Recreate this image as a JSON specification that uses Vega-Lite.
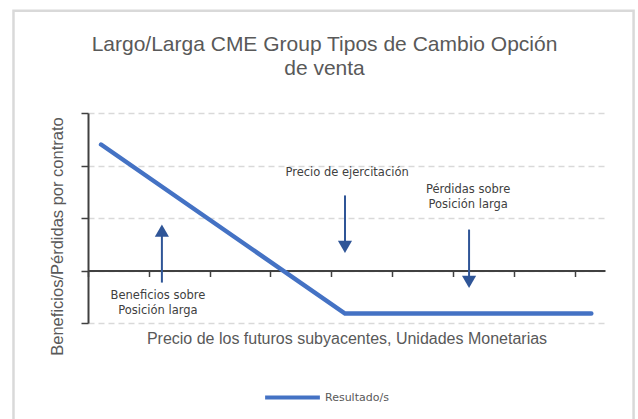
{
  "$schema": "https://vega.github.io/schema/vega-lite/v6.json",
  "width": 517,
  "height": 210,
  "autosize": {"type": "none"},
  "padding": {"left": 88, "top": 113, "right": 33, "bottom": 96},
  "background": "#ffffff",
  "config": {
    "view": {"stroke": null},
    "font": "Liberation Sans"
  },
  "title": {
    "text": ["Largo/Larga CME Group Tipos de Cambio Opción", "de venta"],
    "frame": "group",
    "fontSize": 21,
    "fontWeight": "normal",
    "font": "Liberation Sans",
    "color": "#595959",
    "lineHeight": 24,
    "offset": -70,
    "dx": -22
  },
  "datasets": {
    "payoff": [
      {"precio": 0.43, "resultado": 2.4, "serie": "Resultado/s"},
      {"precio": 8.45, "resultado": -0.82, "serie": "Resultado/s"},
      {"precio": 16.55, "resultado": -0.82, "serie": "Resultado/s"}
    ],
    "arrows": [
      {"x": 2.43, "y0": -0.23, "y1": 0.78, "tip": 0.76, "dir": "up"},
      {"x": 8.45, "y0": 1.43, "y1": 0.4, "tip": 0.448, "dir": "down"},
      {"x": 12.53, "y0": 0.78, "y1": -0.2, "tip": -0.219, "dir": "down"}
    ],
    "labels": [
      {"x": 8.52, "y": 1.86, "label": "Precio de ejercitación"},
      {"x": 12.5, "y": 1.524, "label": "Pérdidas sobre\nPosición larga"},
      {"x": 2.3, "y": -0.495, "label": "Beneficios sobre\nPosición larga"}
    ]
  },
  "layer": [
    {
      "data": {"values": [{"frame": 1}]},
      "mark": {"type": "rect", "fill": null, "stroke": "#d9d9d9", "strokeWidth": 2.5},
      "encoding": {
        "x": {"datum": -2.45, "type": "quantitative", "scale": {"domain": [0, 17], "nice": false, "zero": false}},
        "x2": {"datum": 17.94},
        "y": {"datum": 4.95, "type": "quantitative", "scale": {"domain": [-1, 3], "nice": false, "zero": false}},
        "y2": {"datum": -3.3}
      }
    },
    {
      "data": {"name": "payoff"},
      "mark": {"type": "line", "strokeWidth": 4.5, "strokeCap": "round"},
      "encoding": {
        "x": {
          "field": "precio", "type": "quantitative",
          "scale": {"domain": [0, 17], "nice": false, "zero": false},
          "axis": {
            "orient": "bottom",
            "offset": -52.5,
            "values": [0,1,2,3,4,5,6,7,8,9,10,11,12,13,14,15,16,17],
            "labels": false,
            "labelOverlap": false,
            "grid": false,
            "tickSize": 6,
            "tickWidth": 1.5,
            "tickColor": "#404040",
            "domainColor": "#404040",
            "domainWidth": 2,
            "title": "Precio de los futuros subyacentes, Unidades Monetarias",
            "titleFont": "Liberation Sans",
            "titleFontSize": 16,
            "titleFontWeight": "normal",
            "titleColor": "#595959",
            "titleBaseline": "middle",
            "titleY": 68
          }
        },
        "y": {
          "field": "resultado", "type": "quantitative",
          "scale": {"domain": [-1, 3], "nice": false, "zero": false},
          "axis": {
            "values": [-1, 0, 1, 2, 3],
            "labels": false,
            "labelOverlap": false,
            "grid": true,
            "gridDash": [6, 4],
            "gridColor": "#d9d9d9",
            "gridWidth": 1.5,
            "tickSize": 7,
            "tickWidth": 1.5,
            "tickColor": "#404040",
            "domainColor": "#404040",
            "domainWidth": 2,
            "title": "Beneficios/Pérdidas por contrato",
            "titleFont": "Liberation Sans",
            "titleFontSize": 16.5,
            "titleFontWeight": "normal",
            "titleColor": "#595959",
            "titleAngle": 270,
            "titleAlign": "center",
            "titleBaseline": "middle",
            "titleX": -31,
            "titleY": 123
          }
        },
        "color": {
          "field": "serie", "type": "nominal",
          "scale": {"range": ["#4472C4"]},
          "legend": {
            "title": null,
            "orient": "none",
            "legendX": 175,
            "legendY": 255,
            "symbolType": "stroke",
            "symbolSize": 3000,
            "symbolStrokeWidth": 4,
            "labelFont": "DejaVu Sans",
            "labelFontSize": 11,
            "labelColor": "#595959",
            "labelOffset": 3
          }
        }
      }
    },
    {
      "data": {"name": "arrows"},
      "mark": {"type": "rule", "color": "#2F5597", "strokeWidth": 2},
      "encoding": {
        "x": {"field": "x", "type": "quantitative"},
        "y": {"field": "y0", "type": "quantitative"},
        "y2": {"field": "y1"}
      }
    },
    {
      "data": {"name": "arrows"},
      "mark": {"type": "point", "filled": true, "color": "#2F5597", "size": 200, "opacity": 1},
      "encoding": {
        "x": {"field": "x", "type": "quantitative"},
        "y": {"field": "tip", "type": "quantitative"},
        "shape": {
          "field": "dir", "type": "nominal",
          "scale": {"domain": ["up", "down"], "range": ["triangle-up", "triangle-down"]},
          "legend": null
        }
      }
    },
    {
      "data": {"name": "labels"},
      "mark": {"type": "text", "font": "DejaVu Sans", "fontSize": 11.5, "color": "#404040", "lineBreak": "\n", "lineHeight": 15, "align": "center", "baseline": "middle"},
      "encoding": {
        "x": {"field": "x", "type": "quantitative"},
        "y": {"field": "y", "type": "quantitative"},
        "text": {"field": "label"}
      }
    }
  ]
}
